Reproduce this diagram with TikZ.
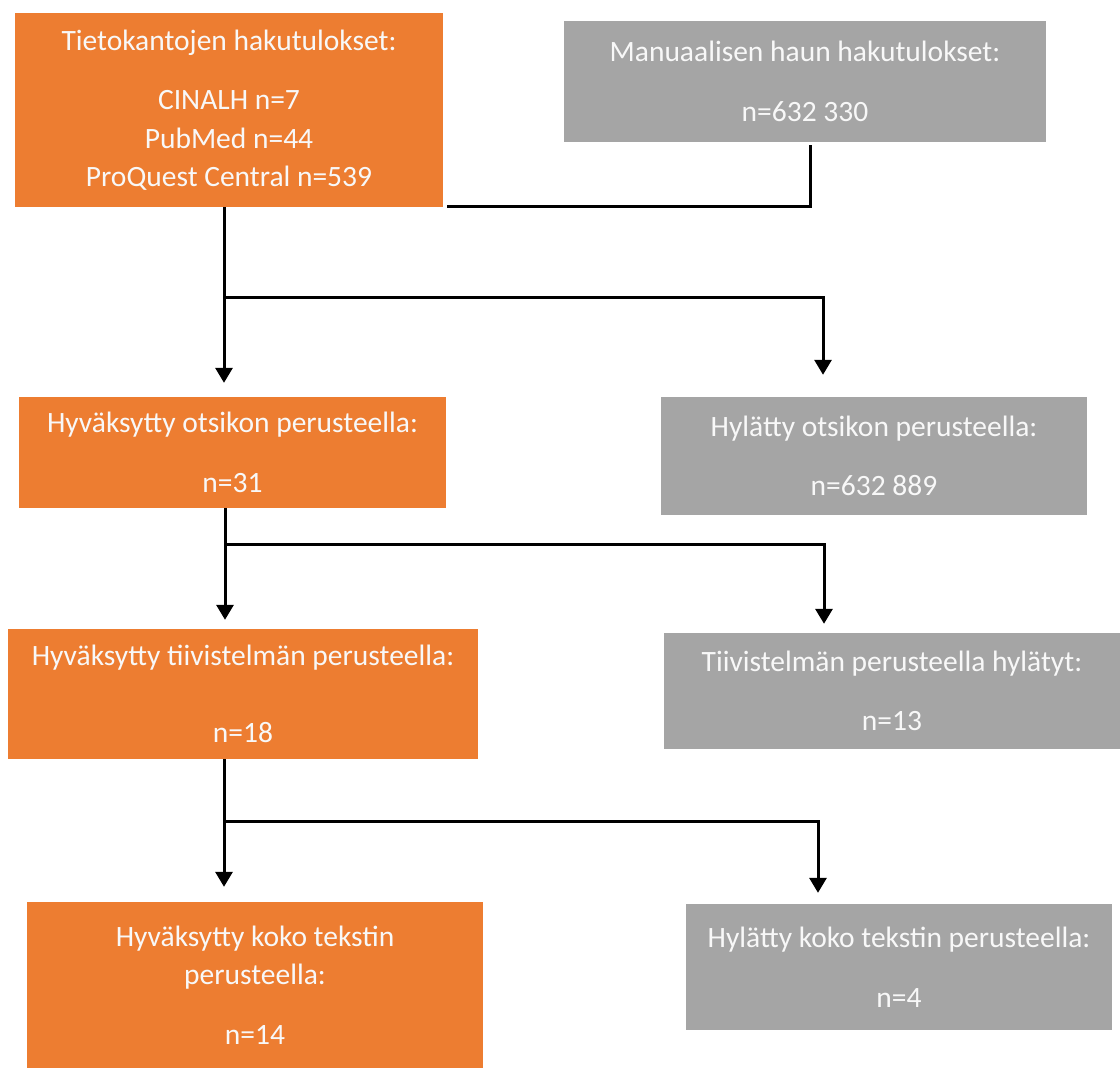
\documentclass[tikz,border=0pt]{standalone}
\usepackage{fontspec}
\setmainfont{Carlito}
\usetikzlibrary{arrows.meta}
\definecolor{orng}{HTML}{ED7D31}
\definecolor{gry}{HTML}{A5A5A5}
\definecolor{txt}{HTML}{F8F8F8}
\begin{document}
\begin{tikzpicture}[x=1pt,y=-1pt,
  box/.style={rectangle, inner sep=0pt, align=center, text=txt,
              font=\fontsize{29.5}{38.5}\selectfont},
  okbox/.style={box, fill=orng},
  nobox/.style={box, fill=gry},
  conn/.style={line width=3pt, black},
  arr/.style={conn, -{Triangle[width=17pt,length=15pt]}}]
\useasboundingbox[fill=white] (0,0) rectangle (1120,1068);

% boxes
\node[okbox, minimum width=428pt, minimum height=194pt] (db) at (229,110)
  {Tietokantojen hakutulokset:\\[21pt] CINALH n=7\\ PubMed n=44\\ ProQuest Central n=539};
\node[nobox, minimum width=482pt, minimum height=121pt] (man) at (805,81.5)
  {Manuaalisen haun hakutulokset:\\[21pt] n=632 330};
\node[okbox, minimum width=427pt, minimum height=111pt] (okt) at (232.5,452.5)
  {Hyväksytty otsikon perusteella:\\[21pt] n=31};
\node[nobox, minimum width=426pt, minimum height=118pt] (not) at (874,456)
  {Hylätty otsikon perusteella:\\[21pt] n=632 889};
\node[okbox, minimum width=470pt, minimum height=130pt] (oka) at (243,694)
  {Hyväksytty tiivistelmän perusteella:\\[38.5pt] n=18};
\node[nobox, minimum width=456pt, minimum height=116pt] (noa) at (892,691)
  {Tiivistelmän perusteella hylätyt:\\[21pt] n=13};
\node[okbox, minimum width=456pt, minimum height=166pt] (okf) at (255,985)
  {Hyväksytty koko tekstin\\ perusteella:\\[21pt] n=14};
\node[nobox, minimum width=426pt, minimum height=126pt] (nof) at (899,967)
  {Hylätty koko tekstin perusteella:\\[21pt] n=4};

% connector points
\coordinate (mc) at (810,206);
\coordinate (mj) at (447,206);
\coordinate (j1) at (224,297);
\coordinate (r1) at (823,297);
\coordinate (j2) at (225,544);
\coordinate (r2) at (824,544);
\coordinate (j3) at (224,821);
\coordinate (r3) at (818,821);

% manual search joins database line
\draw[conn] ([yshift=-3pt]man.south -| mc) -- (mc) -- (mj);

% stage 1
\draw[arr, shorten >=14pt] (db.south -| j1) -- (j1 |- okt.north);
\draw[arr, shorten >=22pt] (j1) -- (r1) -- (r1 |- not.north);

% stage 2
\draw[arr, shorten >=9pt] (okt.south -| j2) -- (j2 |- oka.north);
\draw[arr, shorten >=9pt] (j2) -- (r2) -- (r2 |- noa.north);

% stage 3
\draw[arr, shorten >=15pt] (oka.south -| j3) -- (j3 |- okf.north);
\draw[arr, shorten >=11pt] (j3) -- (r3) -- (r3 |- nof.north);
\end{tikzpicture}
\end{document}
